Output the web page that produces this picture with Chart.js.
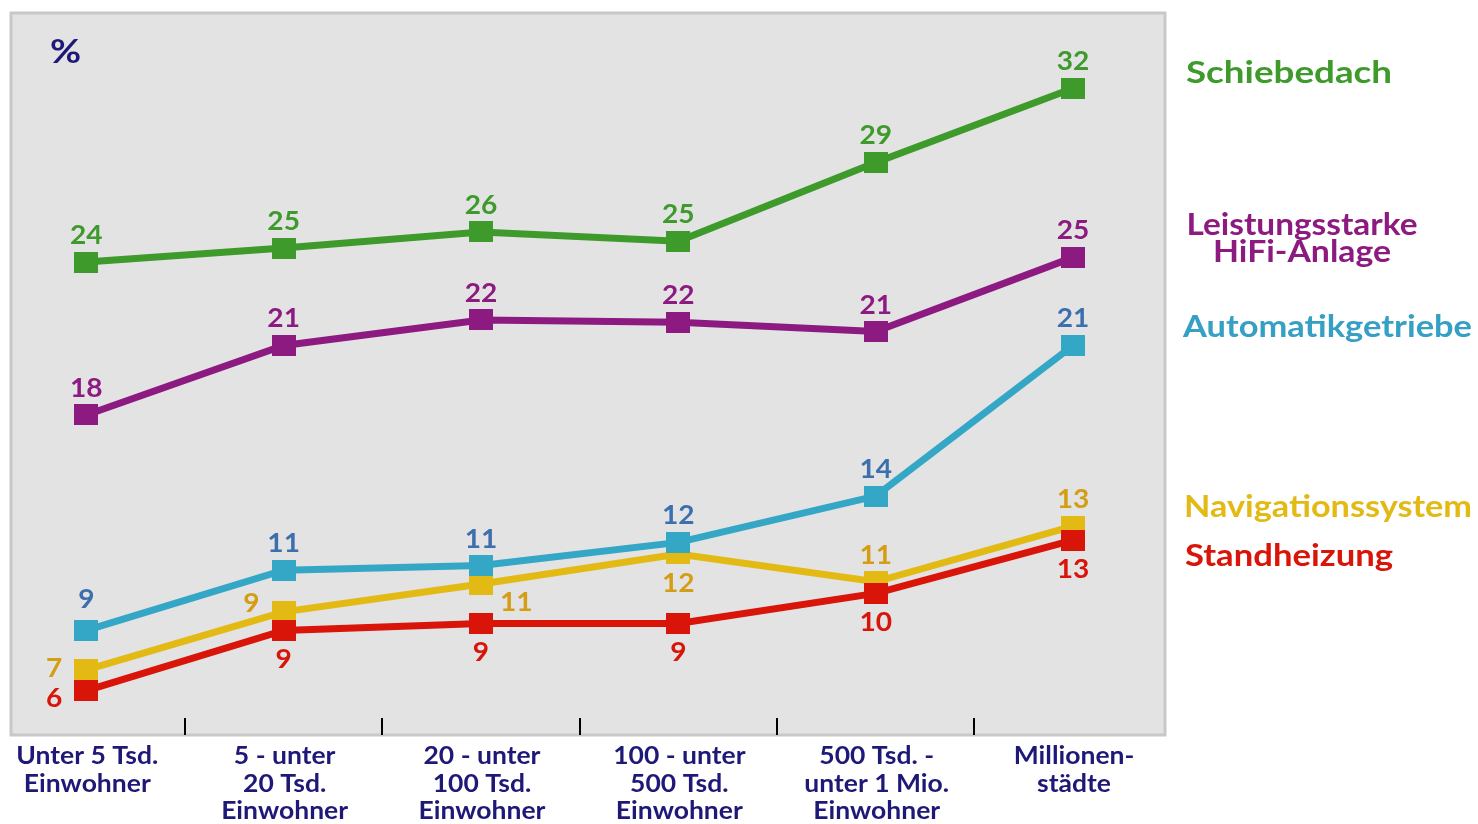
<!DOCTYPE html>
<html><head><meta charset="utf-8">
<script src="https://cdn.jsdelivr.net/npm/chart.js@4/dist/chart.umd.min.js"></script>
<style>html,body{margin:0;padding:0;background:#fff;}canvas{display:block}</style>
</head><body>
<canvas id="c" width="1478" height="824"></canvas>
<script>
// ---- data ----
const categories = [
  ["Unter 5 Tsd.", "Einwohner"],
  ["5 - unter", "20 Tsd.", "Einwohner"],
  ["20 - unter", "100 Tsd.", "Einwohner"],
  ["100 - unter", "500 Tsd.", "Einwohner"],
  ["500 Tsd. -", "unter 1 Mio.", "Einwohner"],
  ["Millionen-", "städte"]
];
const seriesNames = ["Schiebedach", "Leistungsstarke HiFi-Anlage", "Automatikgetriebe", "Navigationssystem", "Standheizung"];
const schiebedach  = [24.5, 25.1, 25.8, 25.4, 28.8, 32.0];
const hifi         = [17.9, 20.9, 22.0, 21.9, 21.5, 24.7];
const automatik    = [8.6, 11.2, 11.4, 12.4, 14.4, 20.9];
const navi         = [6.9, 9.4, 10.6, 11.9, 10.7, 13.1];
const standheizung = [6.0, 8.6, 8.9, 8.9, 10.2, 12.5];
const schiebedachLabels  = ["24", "25", "26", "25", "29", "32"];
const hifiLabels         = ["18", "21", "22", "22", "21", "25"];
const automatikLabels    = ["9", "11", "11", "12", "14", "21"];
const naviLabels         = ["7", "9", "11", "12", "11", "13"];
const standheizungLabels = ["6", "9", "9", "9", "10", "13"];
const unitLabel = "%";

// ---- styles ----
const FONT = "Lato, 'Noto Sans', sans-serif";
const NAVY = "#1e1876";
function marker(color) {
  const c = document.createElement('canvas');
  c.width = 24; c.height = 21;
  const g = c.getContext('2d');
  g.fillStyle = color; g.fillRect(0, 0, 24, 21);
  return c;
}
function mk(name, values, labels, color, labelColor, pos, order) {
  return {
    label: name,
    data: values.map((v, i) => ({x: i, y: v})),
    borderColor: color,
    backgroundColor: color,
    borderWidth: 7,
    pointStyle: marker(color),
    pointRadius: 12,
    tension: 0,
    order: order,
    valueLabels: labels,
    labelColor: labelColor,
    labelPos: pos
  };
}
const datasets = [
  mk(seriesNames[0], schiebedach, schiebedachLabels, "#3d9a2b", "#3d9a2b", ['t','t','t','t','t','t'], 1),
  mk(seriesNames[1], hifi, hifiLabels, "#8c1a80", "#8c1a80", ['t','t','t','t','t','t'], 2),
  mk(seriesNames[2], automatik, automatikLabels, "#35a7c6", "#3b6fae", ['tt','t','t','t','t','t'], 3),
  mk(seriesNames[3], navi, naviLabels, "#e3b914", "#d49e14", ['l','lt','br','b','t','t'], 5),
  mk(seriesNames[4], standheizung, standheizungLabels, "#d91408", "#d91408", ['lb','b','b','b','b','b'], 4)
];

const legendItems = [
  {lines: ["Schiebedach"], w: [206], color: "#3d9a2b", x: 1186, y: 83, align: 'left'},
  {lines: ["Leistungsstarke", "HiFi-Anlage"], w: [231, 178], color: "#8c1a80", x: 1302, y: 235, align: 'center'},
  {lines: ["Automatikgetriebe"], w: [289], color: "#35a0c4", x: 1183, y: 337, align: 'left'},
  {lines: ["Navigationssystem"], w: [288], color: "#e3b914", x: 1184, y: 517, align: 'left'},
  {lines: ["Standheizung"], w: [208], color: "#d91408", x: 1185, y: 566, align: 'left'}
];

function drawScaled(ctx, t, x, y, sx) {
  ctx.save();
  ctx.translate(x, y);
  ctx.scale(sx, 1);
  ctx.fillText(t, 0, 0);
  ctx.restore();
}

const deco = {
  id: 'deco',
  beforeDatasetsDraw(chart) {
    const {ctx, chartArea: a} = chart;
    ctx.save();
    ctx.fillStyle = '#e3e3e3';
    ctx.fillRect(a.left, a.top, a.right - a.left, a.bottom - a.top);
    ctx.strokeStyle = '#c8c8c8';
    ctx.lineWidth = 3;
    ctx.strokeRect(a.left + 1, a.top + 1, a.right - a.left - 2, a.bottom - a.top - 1);
    // ticks between categories
    const xs = chart.scales.x;
    ctx.strokeStyle = '#000';
    ctx.lineWidth = 2;
    for (let i = 0; i < categories.length - 1; i++) {
      const px = Math.round(xs.getPixelForValue(i + 0.5));
      ctx.beginPath();
      ctx.moveTo(px, a.bottom - 17);
      ctx.lineTo(px, a.bottom);
      ctx.stroke();
    }
    ctx.restore();
  },
  afterDatasetsDraw(chart) {
    const {ctx} = chart;
    const xs = chart.scales.x;
    ctx.save();
    ctx.textBaseline = 'alphabetic';
    // unit
    ctx.fillStyle = NAVY;
    ctx.font = "bold 33px " + FONT;
    ctx.textAlign = 'left';
    drawScaled(ctx, unitLabel, 50, 63, 1.15);
    // category labels
    ctx.font = "bold 25px " + FONT;
    ctx.textAlign = 'center';
    categories.forEach((lines, i) => {
      const cx = xs.getPixelForValue(i);
      lines.forEach((t, k) => drawScaled(ctx, t, cx + 1, 764 + k * 27.5, 1.06));
    });
    // value labels
    ctx.font = "bold 27px " + FONT;
    chart.data.datasets.forEach((ds, di) => {
      const meta = chart.getDatasetMeta(di);
      ctx.fillStyle = ds.labelColor;
      meta.data.forEach((pt, i) => {
        const p = ds.labelPos[i];
        const t = ds.valueLabels[i];
        let x = pt.x, y = pt.y, al = 'center';
        if (p === 't') { y -= 18; }
        else if (p === 'tt') { y -= 22; }
        else if (p === 'b') { y += 38; }
        else if (p === 'l') { x -= 24; y += 7; al = 'right'; }
        else if (p === 'lt') { x -= 24; y += 0; al = 'right'; }
        else if (p === 'lb') { x -= 24; y += 16; al = 'right'; }
        else if (p === 'br') { x += 19; y += 27; al = 'left'; }
        ctx.textAlign = al;
        drawScaled(ctx, t, x, y, 1.04);
      });
    });
    // series names
    ctx.font = "bold 31px " + FONT;
    legendItems.forEach(it => {
      ctx.fillStyle = it.color;
      ctx.textAlign = it.align;
      it.lines.forEach((t, k) => {
        const sx = it.w[k] / ctx.measureText(t).width;
        drawScaled(ctx, t, it.x, it.y + k * 27, sx);
      });
    });
    ctx.restore();
  }
};

new Chart(document.getElementById('c'), {
  type: 'line',
  data: {datasets: datasets},
  options: {
    responsive: false,
    animation: false,
    devicePixelRatio: 1,
    layout: {autoPadding: false, padding: {left: 10, top: 12, right: 312, bottom: 89}},
    plugins: {legend: {display: false}, tooltip: {enabled: false}},
    scales: {
      x: {type: 'linear', min: -0.3866, max: 5.471, display: false},
      y: {type: 'linear', min: 4.087, max: 35.29, display: false}
    }
  },
  plugins: [deco]
});
</script>
</body></html>
